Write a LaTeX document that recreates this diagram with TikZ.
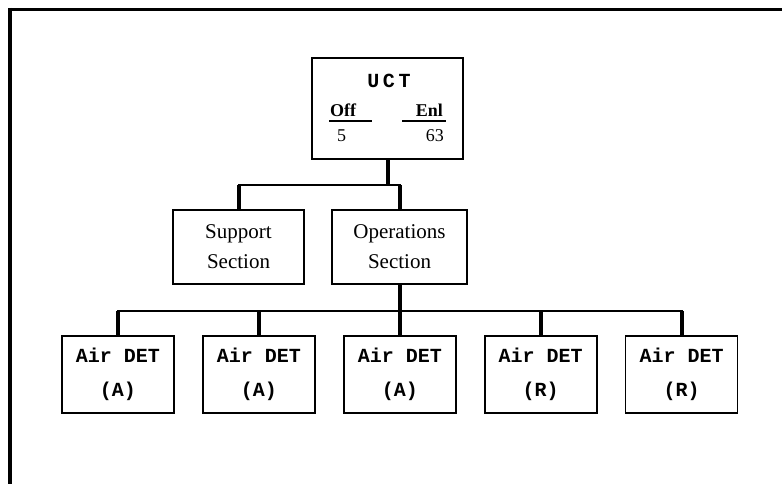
\documentclass[tikz,border=0pt]{standalone}
\usepackage{fontspec}
\setmainfont{Liberation Serif}
\newfontfamily\detfont{Liberation Mono}
\usetikzlibrary{positioning}

\begin{document}
\begin{tikzpicture}[
			x=1pt, y=-1pt,
			node distance=27.3pt,
			box/.style={draw, line width=1.6pt, inner sep=0pt, align=center},
			det/.style={box, minimum width=112pt, minimum height=77pt, font=\detfont\bfseries\fontsize{20}{34}\selectfont},
			sect/.style={box, minimum height=74pt, font=\fontsize{21}{30}\selectfont},
			lbl/.style={inner sep=0pt, font=\fontsize{18}{20}\selectfont},
			stem/.style={line width=4pt},
			bus/.style={line width=2pt, line cap=rect}
		]
		\useasboundingbox (0,0) rectangle (782,484);

		% Frame
		\draw[line width=3pt] (8,10) -- (782,10);
		\draw[line width=4pt] (10,8) -- (10,484);

		% Nodes
		\node[box, minimum width=151pt, minimum height=101pt] (uct) at (387.5,108.5) {};
		\node[inner sep=0pt, font=\detfont\bfseries\fontsize{20}{24}\selectfont\addfontfeature{LetterSpace=18}] (uctName) at (389,81) {UCT};
		\node[lbl, anchor=base west, font=\bfseries\fontsize{18}{20}\selectfont] (off) at (330,117) {Off};
		\node[lbl, anchor=base east, font=\bfseries\fontsize{18}{20}\selectfont] (enl) at (443,117) {Enl};
		\node[lbl, anchor=base west] (offNum) at (337,142) {5};
		\node[lbl, anchor=base east] (enlNum) at (444,142) {63};
		\draw[line width=2pt] (329,121) -- (372,121);
		\draw[line width=2pt] (402,121) -- (446,121);

		\node[sect, minimum width=131pt] (support) at (238.5,247) {Support\\Section};
		\node[sect, minimum width=135pt] (ops) at (399.5,247) {Operations\\Section};

		\node[det] (det1) at (118,374.5) {Air DET\\(A)};
		\node[det, right=of det1] (det2) {Air DET\\(A)};
		\node[det, right=of det2] (det3) {Air DET\\(A)};
		\node[det, right=of det3] (det4) {Air DET\\(R)};
		\node[det, right=of det4] (det5) {Air DET\\(R)};

		% Lines
		\coordinate (busTop) at (0,185);
		\coordinate (busLow) at (0,311);
		\draw[stem] (uct.south) -- (uct.south |- busTop);
		\draw[bus] (support.north |- busTop) -- (ops.north |- busTop);
		\draw[stem] (support.north) -- (support.north |- busTop);
		\draw[stem] (ops.north) -- (ops.north |- busTop);
		\draw[stem] (ops.south) -- (ops.south |- busLow);
		\draw[bus] (det1.north |- busLow) -- (det5.north |- busLow);
		\foreach \n in {1,...,5}
			\draw[stem] (det\n.north) -- (det\n.north |- busLow);
	\end{tikzpicture}
\end{document}
